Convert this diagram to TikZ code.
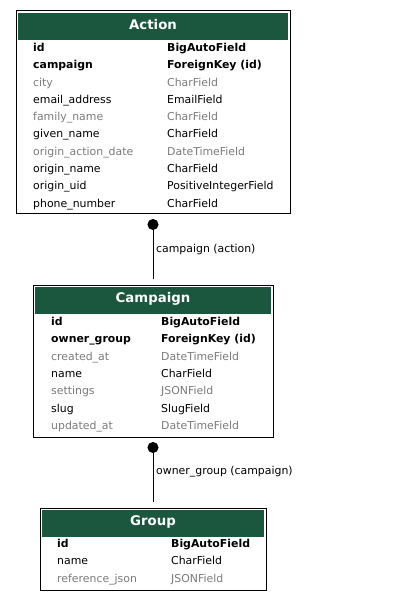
\documentclass[tikz,border=0pt]{standalone}
\usepackage{fontspec}
\setmainfont{DejaVu Sans}
\usepackage{xcolor}
\usepackage{tikz}
\usetikzlibrary{arrows.meta, positioning, calc}

\definecolor{hdrgreen}{HTML}{1B563F}
\definecolor{optgray}{HTML}{7B7B7B}

\tikzset{
  model/.style={draw=black, line width=1pt, inner sep=0pt, outer sep=0pt},
  header/.style={fill=hdrgreen},
  title/.style={text=white, font=\fontsize{13.3}{15}\selectfont\bfseries, inner sep=0pt},
  row/.style={anchor=west, inner sep=0pt, text height=8pt, text depth=1pt, font=\fontsize{10.9}{12}\selectfont},
  keyrow/.style={row, font=\fontsize{10.9}{12}\selectfont\bfseries},
  plainrow/.style={row},
  optrow/.style={row, text=optgray},
  relation/.style={line width=1pt, {Circle[length=11pt]}-, shorten <=5pt, shorten >=6pt},
  rellabel/.style={anchor=west, inner sep=0pt, font=\fontsize{10.9}{12}\selectfont}
}

\begin{document}
\begin{tikzpicture}[x=1pt, y=-1pt]
  \useasboundingbox (0,0) rectangle (403,601);

  % models
  \node[model, minimum width=274pt, minimum height=203pt] (action) at (153,112.5) {};
  \node[model, minimum width=240pt, minimum height=152pt] (campaign) at (153,361) {};
  \node[model, minimum width=226pt, minimum height=82pt] (group) at (153,549) {};

  % headers
  \fill[header] ([shift={(2,2)}]action.north west) rectangle ([shift={(-2,29)}]action.north east);
  \fill[header] ([shift={(2,2)}]campaign.north west) rectangle ([shift={(-2,29)}]campaign.north east);
  \fill[header] ([shift={(2,2)}]group.north west) rectangle ([shift={(-2,29)}]group.north east);
  \node[title] (action-title) at ($(action.north)+(0,14)$) {Action};
  \node[title] (campaign-title) at ($(campaign.north)+(0,14)$) {Campaign};
  \node[title] (group-title) at ($(group.north)+(0,14)$) {Group};

  % fields
  \foreach \i/\f/\t/\s in {0/id/BigAutoField/keyrow,
      1/campaign/ForeignKey (id)/keyrow,
      2/city/CharField/optrow,
      3/email\_address/EmailField/plainrow,
      4/family\_name/CharField/optrow,
      5/given\_name/CharField/plainrow,
      6/origin\_action\_date/DateTimeField/optrow,
      7/origin\_name/CharField/plainrow,
      8/origin\_uid/PositiveIntegerField/plainrow,
      9/phone\_number/CharField/plainrow}{
    \node[\s] (action-f\i) at ($(action.north west)+(17,37+17.3*\i)$) {\f};
    \node[\s] (action-t\i) at ($(action.north west)+(151,37+17.3*\i)$) {\t};
  }
  \foreach \i/\f/\t/\s in {0/id/BigAutoField/keyrow,
      1/owner\_group/ForeignKey (id)/keyrow,
      2/created\_at/DateTimeField/optrow,
      3/name/CharField/plainrow,
      4/settings/JSONField/optrow,
      5/slug/SlugField/plainrow,
      6/updated\_at/DateTimeField/optrow}{
    \node[\s] (campaign-f\i) at ($(campaign.north west)+(18,37+17.3*\i)$) {\f};
    \node[\s] (campaign-t\i) at ($(campaign.north west)+(128,37+17.3*\i)$) {\t};
  }
  \foreach \i/\f/\t/\s in {0/id/BigAutoField/keyrow,
      1/name/CharField/plainrow,
      2/reference\_json/JSONField/optrow}{
    \node[\s] (group-f\i) at ($(group.north west)+(17,36+17.3*\i)$) {\f};
    \node[\s] (group-t\i) at ($(group.north west)+(131,36+17.3*\i)$) {\t};
  }

  % relations
  \draw[relation] (action.south) -- (campaign.north);
  \draw[relation] (campaign.south) -- (group.north);
  \node[rellabel] (rel1) at ($(action.south)!0.5!(campaign.north)+(3,0)$) {campaign (action)};
  \node[rellabel] (rel2) at ($(campaign.south)!0.5!(group.north)+(3,-1)$) {owner\_group (campaign)};
\end{tikzpicture}
\end{document}
